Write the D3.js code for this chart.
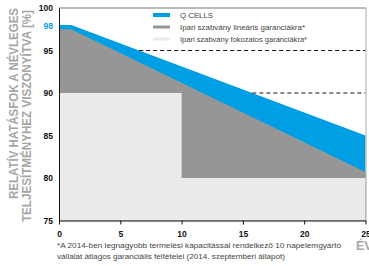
<!DOCTYPE html>
<html>
<head>
<meta charset="utf-8">
<script src="https://cdn.jsdelivr.net/npm/d3@7"></script>
<style>
  body { margin: 0; background: #fff; }
  svg { display: block; font-family: 'Liberation Sans', Arial, sans-serif; }
</style>
</head>
<body>
<svg id="chart" width="369" height="266"></svg>
<script>
// data
const years = [0, 1, 25];
const qcells = [98, 98, 85];
const linearStd = [97.5, 97.5, 80.7];
const stepYears = [0, 10, 25];
const stepStd = [90, 80, 80];
const dashedLevels = [95, 90];
const xTicks = [0, 5, 10, 15, 20, 25];
const yTicks = [75, 80, 85, 90, 95, 100];
const highlightTick = 98;

const legendItems = [
  { label: 'Q CELLS', color: '#009fe3', h: 4, len: 33 },
  { label: 'Ipari szabvány lineáris garanciákra*', color: '#969696', h: 3, len: 125 },
  { label: 'Ipari szabvány fokozatos garanciákra*', color: '#ebebeb', h: 3, len: 127 }
];

const color = { blue: '#009fe3', gray: '#969696', light: '#ebebeb', title: '#a6a6a6' };

const svg = d3.select('#chart');
const x = d3.scaleLinear().domain([0, 25]).range([59, 365.5]);
const y = d3.scaleLinear().domain([75, 100]).range([220.5, 8]);

const toPts = (xs, vs) => xs.map((d, i) => ({ t: d, v: vs[i] }));

const area = d3.area()
  .x(d => x(d.t))
  .y0(y(75))
  .y1(d => y(d.v));

// areas, back to front
svg.append('path').datum(toPts(years, qcells)).attr('fill', color.blue).attr('d', area);
svg.append('path').datum(toPts(years, linearStd)).attr('fill', color.gray).attr('d', area);
svg.append('path').datum(toPts(stepYears, stepStd)).attr('fill', color.light)
  .attr('d', area.curve(d3.curveStepAfter));

// dashed lines start where Q CELLS crosses the level
dashedLevels.forEach(lv => {
  const t = years[1] + (qcells[1] - lv) / (qcells[1] - qcells[2]) * (years[2] - years[1]);
  svg.append('line')
    .attr('x1', x(t)).attr('x2', x(25))
    .attr('y1', y(lv)).attr('y2', y(lv))
    .attr('stroke', '#111').attr('stroke-width', 1)
    .attr('stroke-dasharray', '4,3');
});

// frame
svg.append('line').attr('x1', x(0)).attr('x2', x(25) + 0.5).attr('y1', y(100)).attr('y2', y(100))
  .attr('stroke', '#777').attr('stroke-width', 1);
svg.append('line').attr('x1', x(25) + 0.5).attr('x2', x(25) + 0.5).attr('y1', y(100)).attr('y2', y(75))
  .attr('stroke', '#aaa').attr('stroke-width', 1);

// axes
const xAxis = svg.append('g')
  .attr('transform', `translate(0, ${y(75)})`)
  .call(d3.axisBottom(x).tickValues(xTicks).tickSize(4).tickPadding(6).tickSizeOuter(0));
xAxis.select('.domain').attr('stroke', '#111');
xAxis.selectAll('.tick line').attr('stroke', '#111');
xAxis.selectAll('text').attr('font-size', 8.5).attr('font-weight', 700).attr('fill', '#111')
  .attr('font-family', 'Liberation Sans, Arial, sans-serif');

const yAxis = svg.append('g')
  .attr('transform', `translate(${x(0)}, 0)`)
  .call(d3.axisLeft(y).tickValues(yTicks).tickSize(0).tickPadding(6));
yAxis.select('.domain').attr('stroke', '#111');
yAxis.selectAll('text').attr('font-size', 8.5).attr('font-weight', 700).attr('fill', '#111')
  .attr('font-family', 'Liberation Sans, Arial, sans-serif');

svg.append('text')
  .attr('x', x(0) - 6).attr('y', y(highlightTick) + 1)
  .attr('dy', '0.32em')
  .attr('text-anchor', 'end')
  .attr('font-size', 8.5).attr('font-weight', 700)
  .attr('fill', color.blue)
  .text(highlightTick);

// y title
const titleLines = [
  { text: 'RELATÍV HATÁSFOK A NÉVLEGES', x: 17.5, mid: 103.5, len: 191 },
  { text: 'TELJESÍTMÉNYHEZ VISZONYÍTVA [%]', x: 31, mid: 116, len: 212 }
];
titleLines.forEach(l => {
  svg.append('text')
    .attr('transform', `translate(${l.x}, ${l.mid}) rotate(-90)`)
    .attr('text-anchor', 'middle')
    .attr('font-size', 12).attr('font-weight', 700)
    .attr('fill', color.title)
    .attr('textLength', l.len).attr('lengthAdjust', 'spacingAndGlyphs')
    .text(l.text);
});

// x title, cut off by the window edge
svg.append('text')
  .attr('x', 356).attr('y', 250)
  .attr('font-size', 12.5).attr('font-weight', 700)
  .attr('fill', color.title)
  .text('ÉV');

// legend
const legend = svg.append('g').attr('transform', 'translate(153, 15)');
const row = legend.selectAll('g.row').data(legendItems).enter().append('g')
  .attr('class', 'row')
  .attr('transform', (d, i) => `translate(0, ${i * 12})`);
row.append('rect')
  .attr('width', 17).attr('height', d => d.h)
  .attr('y', d => -d.h / 2)
  .attr('fill', d => d.color);
row.append('text')
  .attr('x', 27).attr('dy', '0.35em')
  .attr('font-size', 7.5).attr('fill', '#444')
  .attr('textLength', d => d.len).attr('lengthAdjust', 'spacingAndGlyphs')
  .text(d => d.label);

// footnote
const notes = [
  { text: '*A 2014-ben legnagyobb termelési kapacitással rendelkező 10 napelemgyártó', len: 284 },
  { text: 'vállalat átlagos garanciális feltételei (2014. szeptemberi állapot)', len: 228 }
];
svg.selectAll('text.note').data(notes).enter().append('text')
  .attr('class', 'note')
  .attr('x', 57).attr('y', (d, i) => 248 + i * 10.5)
  .attr('font-size', 7.9).attr('fill', '#444')
  .attr('textLength', d => d.len).attr('lengthAdjust', 'spacingAndGlyphs')
  .text(d => d.text);
</script>
</body>
</html>
